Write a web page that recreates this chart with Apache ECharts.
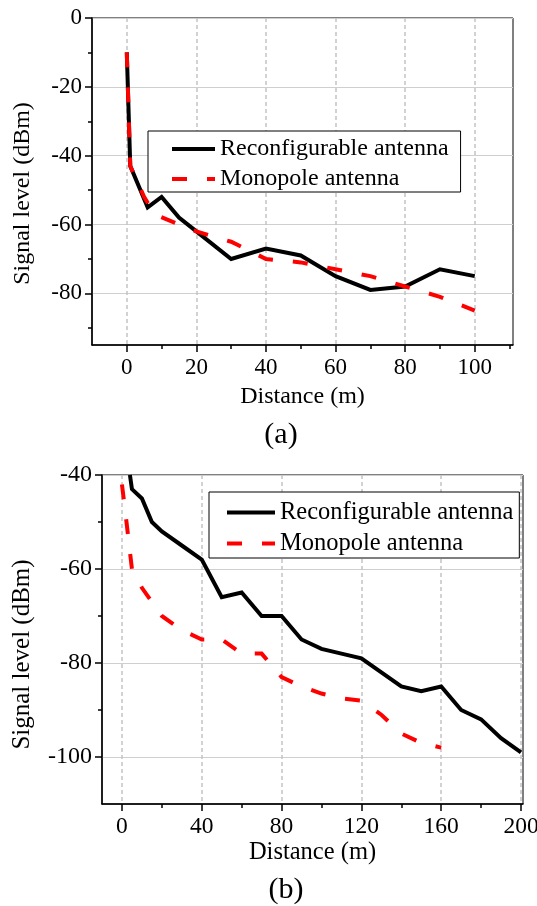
<!DOCTYPE html>
<html>
<head>
<meta charset="utf-8">
<script src="https://cdn.jsdelivr.net/npm/echarts@6/dist/echarts.min.js"></script>
<style>
html, body { margin: 0; padding: 0; background: #fff; }
#chart { width: 537px; height: 906px; }
</style>
</head>
<body>
<div id="chart"></div>
<script>
// ---------- Data ----------
// Chart (a)
const distA_reconf = [0, 1, 6, 10, 15, 20, 30, 40, 50, 60, 70, 80, 90, 100];
const levelA_reconf = [-10, -43, -55, -52, -58, -62, -70, -67, -69, -75, -79, -78, -73, -75];
const distA_mono = [0, 1, 5, 8, 15, 20, 30, 40, 50, 60, 70, 80, 90, 100];
const levelA_mono = [-10, -43, -52, -57, -60, -62, -65, -70, -71, -73, -75, -78, -81, -85];
// Chart (b)
const distB_reconf = [4, 5, 10, 15, 20, 30, 40, 50, 60, 70, 80, 90, 100, 110, 120, 130, 140, 150, 160, 170, 180, 190, 200];
const levelB_reconf = [-40, -43, -45, -50, -52, -55, -58, -66, -65, -70, -70, -75, -77, -78, -79, -82, -85, -86, -85, -90, -92, -96, -99];
const distB_mono = [0, 2, 5, 10, 20, 30, 40, 50, 60, 70, 80, 90, 100, 110, 120, 130, 140, 150, 160];
const levelB_mono = [-42, -49, -60, -64, -70, -73, -75, -75, -78, -78, -83, -85, -86.5, -87.5, -88, -91, -95, -97, -98];

// Tick labels
const xTicksA = [0, 20, 40, 60, 80, 100];
const xMinorA = [10, 30, 50, 70, 90, 110];
const yTicksA = [-80, -60, -40, -20, 0];
const yMinorA = [-90, -70, -50, -30, -10];
const xTicksB = [0, 40, 80, 120, 160, 200];
const xMinorB = [20, 60, 100, 140, 180];
const yTicksB = [-100, -80, -60, -40];
const yMinorB = [-90, -70, -50];

const seriesNames = ['Reconfigurable antenna', 'Monopole antenna'];
const xName = 'Distance (m)';
const yName = 'Signal level (dBm)';

// ---------- Build ----------
const FONT = "'Liberation Serif', 'Times New Roman', serif";
const zip = (xs, ys) => xs.map((x, i) => [x, ys[i]]);

function majorX(gridIndex, min, max, ticks, nameGap, fs) {
  return {
    type: 'value', gridIndex, min, max, position: 'bottom',
    axisLine: { show: true, onZero: false, lineStyle: { color: '#000', width: 1.5 } },
    axisTick: { show: true, customValues: ticks, length: 7, inside: false, lineStyle: { color: '#000', width: 1.5 } },
    axisLabel: { show: true, customValues: ticks, margin: 11, color: '#000', fontSize: fs, fontFamily: FONT },
    splitLine: { show: true, lineStyle: { color: '#c4c4c4', width: 1.5, type: [4, 3] } },
    name: xName, nameLocation: 'middle', nameGap,
    nameTextStyle: { color: '#000', fontSize: fs + 1, fontFamily: FONT }
  };
}
function minorX(gridIndex, min, max, ticks) {
  return {
    type: 'value', gridIndex, min, max, position: 'bottom',
    axisLine: { show: false, onZero: false },
    axisTick: { show: true, customValues: ticks, length: 4, inside: false, lineStyle: { color: '#000', width: 1.5 } },
    axisLabel: { show: false },
    splitLine: { show: false }
  };
}
function majorY(gridIndex, min, max, ticks, nameGap, shift, fs) {
  return {
    type: 'value', gridIndex, min, max, position: 'left',
    axisLine: { show: true, onZero: false, lineStyle: { color: '#000', width: 1.5 } },
    axisTick: { show: true, customValues: ticks, length: 7, inside: false, lineStyle: { color: '#000', width: 1.5 } },
    axisLabel: { show: true, customValues: ticks, margin: 10, color: '#000', fontSize: fs, fontFamily: FONT },
    splitLine: { show: true, lineStyle: { color: '#cfcfcf', width: 1.2, type: 'solid' } },
    name: yName, nameLocation: 'middle', nameGap, nameRotate: 90,
    nameTextStyle: { color: '#000', fontSize: fs + 1, fontFamily: FONT, padding: [0, shift, 0, 0] }
  };
}
function minorY(gridIndex, min, max, ticks) {
  return {
    type: 'value', gridIndex, min, max, position: 'left',
    axisLine: { show: false, onZero: false },
    axisTick: { show: true, customValues: ticks, length: 4, inside: false, lineStyle: { color: '#000', width: 1.5 } },
    axisLabel: { show: false },
    splitLine: { show: false }
  };
}
function lineSeries(name, xi, yi, data, color, dashed) {
  return {
    type: 'line', name, xAxisIndex: xi, yAxisIndex: yi, data,
    symbol: 'none', showSymbol: false, smooth: false, clip: true,
    itemStyle: { color },
    lineStyle: { color, width: 4, type: dashed ? [15, 20] : 'solid', cap: 'butt', join: 'miter' },
    emphasis: { disabled: true }
  };
}
function legendBox(left, top, itemWidth, padding, fs) {
  return {
    show: true, orient: 'vertical', left, top, data: seriesNames,
    itemWidth, itemHeight: 24, itemGap: 6, padding,
    borderColor: '#000', borderWidth: 1, backgroundColor: '#fff',
    textStyle: { color: '#000', fontSize: fs, fontFamily: FONT },
    lineStyle: { width: 4 },
    itemStyle: { opacity: 0, color: 'transparent', borderColor: 'transparent', borderWidth: 0 },
    selectedMode: false
  };
}

const chart = echarts.init(document.getElementById('chart'), null, { renderer: 'canvas' });
chart.setOption({
  animation: false,
  backgroundColor: '#fff',
  grid: [
    { left: 92, top: 18, width: 421, height: 327, show: true, borderColor: '#000', borderWidth: 1, backgroundColor: 'transparent', containLabel: false, outerBoundsMode: 'none' },
    { left: 102, top: 475, width: 421, height: 329, show: true, borderColor: '#000', borderWidth: 1, backgroundColor: 'transparent', containLabel: false, outerBoundsMode: 'none' }
  ],
  xAxis: [
    majorX(0, -10, 111, xTicksA, 40, 23),
    minorX(0, -10, 111, xMinorA),
    majorX(1, -10, 201, xTicksB, 35, 23.5),
    minorX(1, -10, 201, xMinorB)
  ],
  yAxis: [
    majorY(0, -95, 0, yTicksA, 57, 24, 23),
    minorY(0, -95, 0, yMinorA),
    majorY(1, -110, -40, yTicksB, 67, 30, 24),
    minorY(1, -110, -40, yMinorB)
  ],
  legend: [
    legendBox(148, 131, 43, [6, 12, 1, 22], 24),
    legendBox(209, 492, 48, [8, 6, 2, 16], 24.5)
  ],
  series: [
    lineSeries(seriesNames[0], 0, 0, zip(distA_reconf, levelA_reconf), '#000000', false),
    lineSeries(seriesNames[1], 0, 0, zip(distA_mono, levelA_mono), '#ff0000', true),
    lineSeries(seriesNames[0], 2, 2, zip(distB_reconf, levelB_reconf), '#000000', false),
    lineSeries(seriesNames[1], 2, 2, zip(distB_mono, levelB_mono), '#ff0000', true)
  ],
  graphic: [
    { type: 'text', x: 281, y: 435, style: { text: '(a)', font: "30px 'Liberation Serif', 'Times New Roman', serif", fill: '#000', textAlign: 'center', textVerticalAlign: 'middle', align: 'center', verticalAlign: 'middle' } },
    { type: 'text', x: 286, y: 890, style: { text: '(b)', font: "30px 'Liberation Serif', 'Times New Roman', serif", fill: '#000', textAlign: 'center', textVerticalAlign: 'middle', align: 'center', verticalAlign: 'middle' } }
  ]
});
</script>
</body>
</html>
